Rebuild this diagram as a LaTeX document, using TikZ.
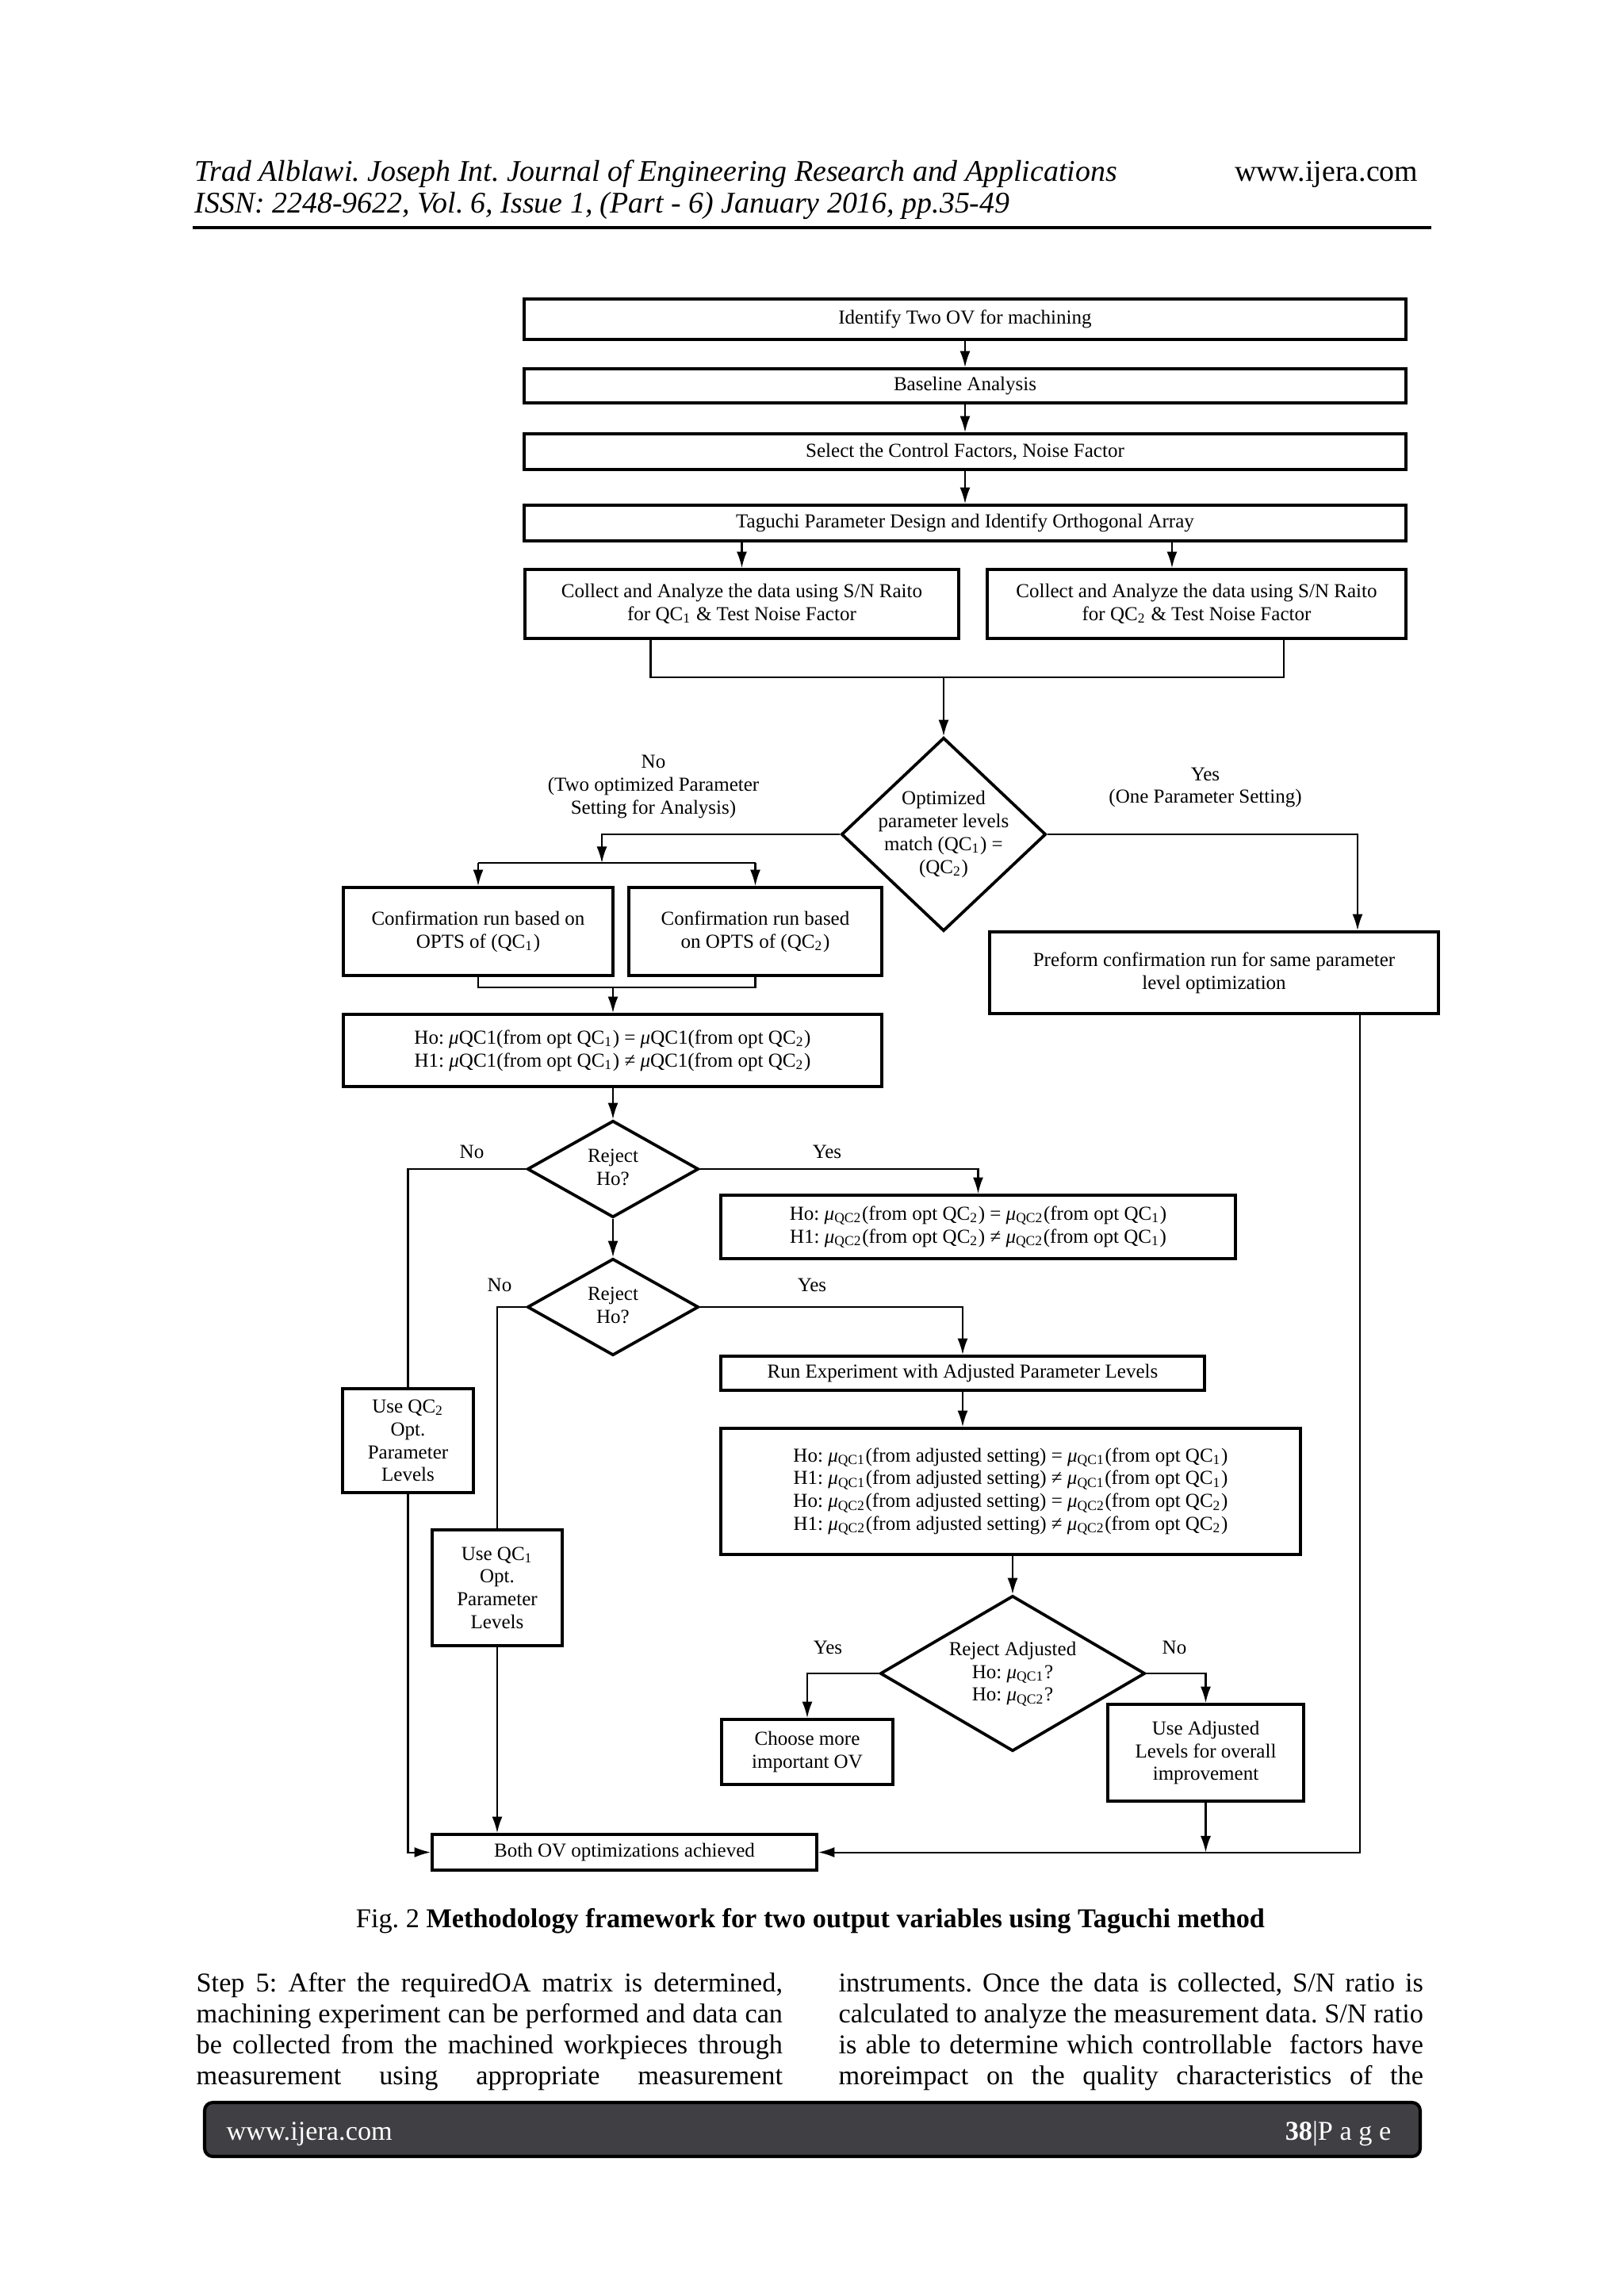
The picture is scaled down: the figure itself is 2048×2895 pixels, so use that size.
\documentclass[tikz,border=0pt]{standalone}
\usepackage{fontspec}
\setmainfont{Liberation Serif}
\usetikzlibrary{shapes.geometric,arrows.meta,calc}
\frenchspacing
\newdimen\pxu \pxu=0.0102539cm
\newcommand{\flowfont}{\fontsize{7.3}{8.4}\selectfont}
\newcommand{\headfont}{\fontsize{11.05}{12.5}\selectfont}
\newcommand{\bodyfont}{\fontsize{10}{11.3}\selectfont}
\newcommand{\dtext}[1]{\makebox[0pt]{\smash{\raisebox{-0.25em}{\begin{tabular}{@{}c@{}}#1\end{tabular}}}}}
\newcommand{\sbx}[1]{\textsubscript{#1}}
\newcommand{\mq}[1]{\textit{μ}\textsubscript{QC#1}}
\definecolor{FootGray}{HTML}{403F44}
\tikzset{
    box/.style = {draw, rectangle, line width=1.1pt, inner sep=0pt,
        align=center, font=\flowfont},
    decision/.style = {draw, diamond, line width=1.1pt, inner sep=0pt, font=\flowfont},
    arrow/.style = {draw, line width=0.6pt, -{Latex[length=6pt,width=3.8pt]}},
    link/.style = {draw, line width=0.6pt},
    answer/.style = {inner sep=0pt, align=center, font=\flowfont},
    headtext/.style = {anchor=base west, inner sep=0pt, font=\headfont}
}
\begin{document}
\begin{tikzpicture}[x=0.0102539cm, y=-0.0102539cm]
                    \fill[white] (0,0) rectangle (2048,2895);
                    \useasboundingbox (0,0) rectangle (2048,2895);
                    % page header
                    \node[headtext, font=\headfont\itshape] (journal) at (245,228) {Trad Alblawi. Joseph Int. Journal of Engineering Research and Applications};
                    \node[headtext, anchor=base east] (site) at (1789,228) {www.ijera.com};
                    \node[headtext, font=\headfont\itshape] (issn) at (245,268) {ISSN: 2248-9622, Vol. 6, Issue 1, (Part - 6) January 2016, pp.35-49};
                    \draw[line width=1.1pt] (243,287) -- (1805,287);
                    % flowchart
                    \node[box, minimum width=1112\pxu, minimum height=51\pxu] (ident) at (1217,402.5) {Identify Two OV for machining};
                    \node[box, minimum width=1112\pxu, minimum height=43\pxu] (base) at (1217,486.5) {Baseline Analysis};
                    \node[box, minimum width=1112\pxu, minimum height=45\pxu] (select) at (1217,569.5) {Select the Control Factors, Noise Factor};
                    \node[box, minimum width=1112\pxu, minimum height=45\pxu] (taguchi) at (1217,659.5) {Taguchi Parameter Design and Identify Orthogonal Array};
                    \node[box, minimum width=547\pxu, minimum height=87\pxu] (coll1) at (935.5,761.5) {Collect and Analyze the data using S/N Raito\\for QC\sbx{1} \& Test Noise Factor};
                    \node[box, minimum width=528\pxu, minimum height=87\pxu] (coll2) at (1509,761.5) {Collect and Analyze the data using S/N Raito\\for QC\sbx{2} \& Test Noise Factor};
                    \node[decision, minimum width=258\pxu, minimum height=244\pxu] (match) at (1190,1052) {\dtext{Optimized\\parameter levels\\match (QC\sbx{1}) =\\(QC\sbx{2})}};
                    \node[box, minimum width=340\pxu, minimum height=111\pxu] (conf1) at (603,1174.5) {Confirmation run based on\\OPTS of (QC\sbx{1})};
                    \node[box, minimum width=319\pxu, minimum height=111\pxu] (conf2) at (952.5,1174.5) {Confirmation run based\\on OPTS of (QC\sbx{2})};
                    \node[box, minimum width=566\pxu, minimum height=103\pxu] (preform) at (1531,1226.5) {Preform confirmation run for same parameter\\level optimization};
                    \node[box, minimum width=679\pxu, minimum height=91\pxu] (hypone) at (772.5,1324.5) {Ho: \textit{μ}QC1(from opt QC\sbx{1}) = \textit{μ}QC1(from opt QC\sbx{2})\\H1: \textit{μ}QC1(from opt QC\sbx{1}) ≠ \textit{μ}QC1(from opt QC\sbx{2})};
                    \node[decision, minimum width=216\pxu, minimum height=122\pxu] (rejone) at (773,1474) {\dtext{Reject\\Ho?}};
                    \node[box, minimum width=649\pxu, minimum height=80\pxu] (hyptwo) at (1233.5,1547) {Ho: \mq{2}(from opt QC\sbx{2}) = \mq{2}(from opt QC\sbx{1})\\H1: \mq{2}(from opt QC\sbx{2}) ≠ \mq{2}(from opt QC\sbx{1})};
                    \node[decision, minimum width=216\pxu, minimum height=122\pxu] (rejtwo) at (773,1648) {\dtext{Reject\\Ho?}};
                    \node[box, minimum width=610\pxu, minimum height=43\pxu] (runexp) at (1214,1731.5) {Run Experiment with Adjusted Parameter Levels};
                    \node[box, minimum width=731\pxu, minimum height=159\pxu] (hypthree) at (1274.5,1880.5) {Ho: \mq{1}(from adjusted setting) = \mq{1}(from opt QC\sbx{1})\\H1: \mq{1}(from adjusted setting) ≠ \mq{1}(from opt QC\sbx{1})\\Ho: \mq{2}(from adjusted setting) = \mq{2}(from opt QC\sbx{2})\\H1: \mq{2}(from adjusted setting) ≠ \mq{2}(from opt QC\sbx{2})};
                    \node[box, minimum width=165\pxu, minimum height=131\pxu] (useqctwo) at (514.5,1816.5) {Use QC\sbx{2}\\Opt.\\Parameter\\Levels};
                    \node[box, minimum width=164\pxu, minimum height=146\pxu] (useqcone) at (627,2002) {Use QC\sbx{1}\\Opt.\\Parameter\\Levels};
                    \node[decision, minimum width=334\pxu, minimum height=196\pxu] (rejadj) at (1277,2110) {\dtext{Reject Adjusted\\Ho: \mq{1}?\\Ho: \mq{2}?}};
                    \node[box, minimum width=216\pxu, minimum height=82\pxu] (choose) at (1018,2209) {Choose more\\important OV};
                    \node[box, minimum width=247\pxu, minimum height=122\pxu] (useadj) at (1520.5,2210) {Use Adjusted\\Levels for overall\\improvement};
                    \node[box, minimum width=485\pxu, minimum height=45\pxu] (both) at (787.5,2335.5) {Both OV optimizations achieved};
                    % branch labels
                    \node[answer] (nomatch) at (824,992) {No\\(Two optimized Parameter\\Setting for Analysis)};
                    \node[answer] (yesmatch) at (1520,993) {Yes\\(One Parameter Setting)};
                    \node[answer] (noone) at (595,1452) {No};
                    \node[answer] (yesone) at (1043,1452) {Yes};
                    \node[answer] (notwo) at (630,1620) {No};
                    \node[answer] (yestwo) at (1024,1620) {Yes};
                    \node[answer] (yesadj) at (1044,2077) {Yes};
                    \node[answer] (noadj) at (1481,2077) {No};
                    % connectors
                    \draw[arrow] (ident) -- (base);
                    \draw[arrow] (base) -- (select);
                    \draw[arrow] (select) -- (taguchi);
                    \draw[arrow] (taguchi.south -| coll1.north) -- (coll1.north);
                    \coordinate (in2) at ($(coll2.north)+(-31,0)$);
                    \draw[arrow] (taguchi.south -| in2) -- (in2);
                    \coordinate (join1) at (1190,854);
                    \draw[link] ($(coll1.south)+(-115,0)$) |- (join1) -| ($(coll2.south)+(110,0)$);
                    \draw[arrow] (join1) -- (match.north);
                    \coordinate (split) at (759,1088);
                    \draw[arrow] (match.west) -| (split);
                    \draw[link] (conf1.north |- split) -- (conf2.north |- split);
                    \draw[arrow] (conf1.north |- split) -- (conf1.north);
                    \draw[arrow] (conf2.north |- split) -- (conf2.north);
                    \draw[arrow] (match.east) -| ($(preform.north)+(181,0)$);
                    \coordinate (join2) at (773,1245);
                    \draw[link] (conf1.south) |- (join2) -| (conf2.south);
                    \draw[arrow] (join2) -- (join2 |- hypone.north);
                    \draw[arrow] (rejone.north |- hypone.south) -- (rejone.north);
                    \draw[link] (rejone.west) -| (useqctwo.north);
                    \draw[arrow] (useqctwo.south) |- (both.west);
                    \draw[arrow] (rejone.east) -| (hyptwo.north);
                    \draw[arrow] (rejone.south) -- (rejtwo.north);
                    \draw[link] (rejtwo.west) -| (useqcone.north);
                    \draw[arrow] (useqcone.south) -- (useqcone.south |- both.north);
                    \draw[arrow] (rejtwo.east) -| (runexp.north);
                    \draw[arrow] (runexp.south) -- (runexp.south |- hypthree.north);
                    \draw[arrow] (rejadj.north |- hypthree.south) -- (rejadj.north);
                    \draw[arrow] (rejadj.west) -| (choose.north);
                    \draw[arrow] (rejadj.east) -| (useadj.north);
                    \draw[arrow] (useadj.south) -- (useadj.south |- both.east);
                    \draw[arrow] ($(preform.south)+(184,0)$) |- (both.east);
                    % caption and text
                    \node[anchor=base, inner sep=0pt, font=\bodyfont] (caption) at (1022,2430) {Fig. 2 \textbf{Methodology framework for two output variables using Taguchi method}};
                    \foreach \txt [count=\i] in {{Step 5: After the requiredOA matrix is determined,},{machining experiment can be performed and data can},{be collected from the machined workpieces through},{measurement using appropriate measurement}}{
                        \node[anchor=base west, inner sep=0pt, font=\bodyfont] (left\i) at (247,{2511+39*(\i-1)}) {\makebox[215.7pt][s]{\txt}};
                    }
                    \foreach \txt [count=\i] in {{instruments. Once the data is collected, S/N ratio is},{calculated to analyze the measurement data. S/N ratio},{is able to determine which controllable\ \ factors have},{moreimpact on the quality characteristics of the}}{
                        \node[anchor=base west, inner sep=0pt, font=\bodyfont] (right\i) at (1057,{2511+39*(\i-1)}) {\makebox[215.1pt][s]{\txt}};
                    }
                    % page footer
                    \node[draw, fill=FootGray, line width=1.2pt, rounded corners=3pt, minimum width=1533\pxu, minimum height=68\pxu] (footbar) at (1024.5,2685) {};
                    \node[anchor=base west, inner sep=0pt, text=white, font=\bodyfont] (footsite) at (285,2698) {www.ijera.com};
                    \node[anchor=base east, inner sep=0pt, text=white, font=\bodyfont] (footpage) at (1755,2698) {\textbf{38}|P a g e};
                    \end{tikzpicture}
\end{document}
